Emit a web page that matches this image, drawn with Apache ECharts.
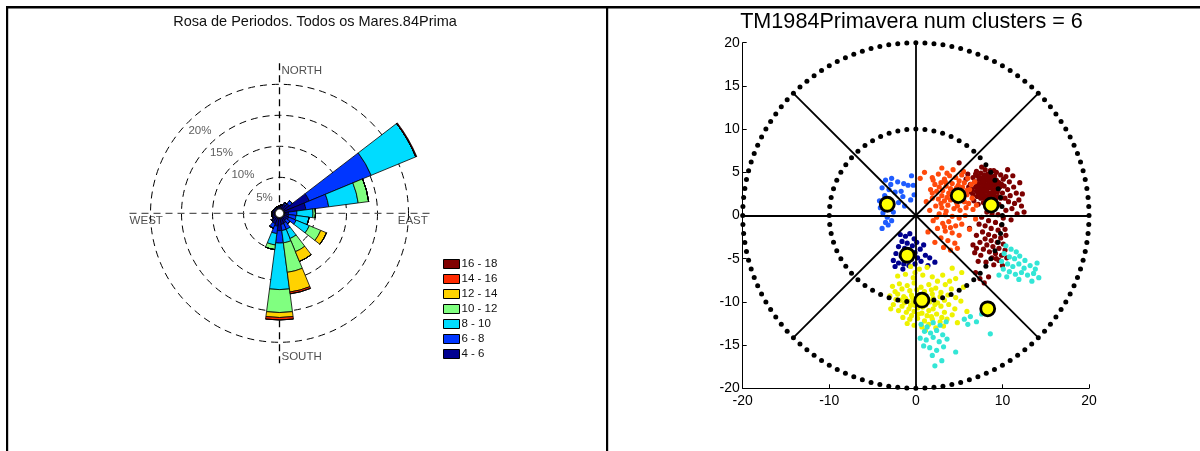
<!DOCTYPE html>
<html>
<head>
<meta charset="utf-8">
<script src="https://cdn.jsdelivr.net/npm/echarts@6/dist/echarts.min.js"></script>
<style>
html,body{margin:0;padding:0;background:#fff;}
#chart{width:1200px;height:451px;}
</style>
</head>
<body>
<div id="chart"></div>
<script>
// ---------- Wind rose (left panel) ----------
// direction sectors, degrees clockwise from north
const directions = [0,15,30,45,60,75,90,105,120,135,150,165,180,195,210,225,240,255,270,285,300,315,330,345];
const speedBins = ['4 - 6','6 - 8','8 - 10','10 - 12','12 - 14','14 - 16','16 - 18'];
// frequency (%) per direction for each period bin
const freq4to6   = [0.4,0.5,0.8,1.2,4.4,3.5,0.65,0.7,0.8,0.6,0.9,1.0,2.0,1.3,1.0,0.7,0.5,0.5,0.4,0.4,0.3,0.3,0.3,0.3];
const freq6to8   = [0,0.1,0.3,0.6,10.8,3.7,1.35,1.2,1.3,0.7,1.1,1.0,2.0,1.2,0.8,0.2,0,0,0,0,0,0,0,0];
const freq8to10  = [0,0,0,0,7.8,4.8,2.6,2.1,2.3,0,1.6,2.0,7.5,1.85,0,0,0,0,0,0,0,0,0,0];
const freq10to12 = [0,0,0,0,0,1.7,0.4,0,2.0,0,2.3,4.8,3.7,0.75,0,0,0,0,0,0,0,0,0,0];
const freq12to14 = [0,0,0,0,0,0,0,0,1.0,0,1.7,3.2,0.8,0,0,0,0,0,0,0,0,0,0,0];
const freq14to16 = [0,0,0,0,0,0,0,0,0,0,0,0.3,0.4,0,0,0,0,0,0,0,0,0,0,0];
const freq16to18 = [0,0,0,0,0.15,0,0,0,0,0,0,0,0,0,0,0,0,0,0,0,0,0,0,0];
const ringValues = [5,10,15,20];
const ringLabels = ['5%','10%','15%','20%'];
const compassNames = ['NORTH','EAST','SOUTH','WEST'];

// ---------- Cluster scatter (right panel) ----------
const clusterBlue = [[-3.5,4.1],[-2.8,4.3],[-2.1,3.9],[-1.4,3.7],[-0.9,3.5],[-0.3,3.5],[-3.9,3.2],[-3.1,3.0],[-2.4,2.7],[-1.7,2.8],[-0.2,2.4],[-0.6,1.8],[-4.2,1.7],[-3.6,2.3],[-2.0,1.5],[-1.3,1.1],[-3.8,0.3],[-3.3,-0.2],[-2.8,-0.6],[-3.5,-0.8],[-2.6,0.4],[-3.9,-1.5],[-4.1,0.9],[-1.5,2.2],[-2.9,3.6],[-3.2,-1.1],[-0.5,4.6]];
const clusterOrange = [[0.5,4.3],[1.0,5.0],[1.9,4.4],[2.6,4.8],[3.3,4.2],[3.9,4.6],[4.6,4.4],[5.3,4.7],[6.0,4.3],[6.4,3.6],[2.2,3.6],[2.9,3.8],[3.5,3.4],[4.2,3.7],[4.9,3.5],[5.6,3.8],[6.2,3.0],[1.7,3.0],[2.4,2.8],[3.1,2.9],[3.8,2.6],[4.5,2.9],[5.2,2.7],[5.9,2.4],[6.5,2.0],[1.9,2.0],[2.6,1.9],[3.3,1.7],[4.0,1.8],[4.7,1.5],[5.4,1.9],[6.1,1.4],[2.3,1.1],[3.0,0.9],[3.7,1.2],[4.4,0.8],[5.1,0.6],[5.8,0.9],[6.6,0.7],[2.7,0.2],[3.4,0.1],[4.2,-0.1],[5.0,-0.3],[5.7,0.0],[2.0,-0.6],[3.1,-0.9],[3.8,-0.7],[4.6,-1.2],[5.3,-1.0],[2.5,-1.5],[3.4,-1.8],[4.2,-2.0],[5.0,-2.3],[2.9,-2.6],[3.7,-2.9],[4.5,-3.2],[3.2,-3.7],[4.0,-4.0],[4.8,-3.8],[1.4,-1.9],[1.6,0.6],[1.2,1.6],[6.8,3.9],[5.5,5.1],[4.3,5.3],[3.0,5.5],[7.0,1.2],[6.9,-0.4],[6.2,-1.6],[2.2,-3.1],[1.9,2.6],[4.1,2.4],[5.0,4.0],[3.6,4.9],[2.0,4.1],[2.7,3.3],[3.4,3.9],[4.0,3.1],[4.7,3.2],[5.4,3.3],[5.9,2.9],[3.0,2.3],[3.6,2.1],[4.3,2.2],[5.0,2.1],[5.6,1.6],[2.9,1.4],[3.5,0.5],[4.8,1.1],[2.4,-0.2],[3.3,-1.3],[4.0,-1.4]];
const clusterDarkRed = [[7.1,4.6],[7.5,4.9],[7.9,4.7],[8.3,4.8],[8.7,4.5],[9.1,4.6],[7.3,4.2],[7.7,4.3],[8.1,4.1],[8.5,4.2],[8.9,4.0],[9.3,4.1],[6.8,3.9],[7.2,3.7],[7.6,3.8],[8.0,3.6],[8.4,3.7],[8.8,3.5],[9.2,3.6],[9.6,3.8],[6.9,3.3],[7.3,3.2],[7.7,3.4],[8.1,3.1],[8.5,3.2],[8.9,3.0],[9.3,3.2],[9.7,3.3],[7.0,2.8],[7.4,2.7],[7.8,2.6],[8.2,2.8],[8.6,2.6],[9.0,2.5],[9.4,2.7],[6.6,2.4],[7.1,2.2],[7.5,2.0],[7.9,2.3],[8.3,2.1],[8.7,1.9],[9.1,2.1],[9.5,2.2],[10.0,2.6],[10.2,3.4],[10.1,4.2],[9.8,4.7],[6.5,3.0],[6.3,3.6],[6.6,4.4],[7.0,5.1],[8.0,5.3],[8.6,5.2],[9.3,5.0],[10.4,4.5],[10.8,3.9],[10.6,3.0],[10.9,2.3],[11.3,3.3],[11.6,2.6],[11.9,1.8],[12.2,1.1],[11.4,1.4],[10.7,1.6],[11.1,0.8],[12.5,0.4],[11.7,0.2],[10.4,0.6],[9.6,1.3],[9.0,1.0],[8.4,1.4],[7.8,1.5],[7.2,1.3],[6.7,1.7],[12.0,3.8],[11.2,4.6],[10.6,5.3],[5.0,6.1],[6.0,4.8],[7.6,5.6],[7.4,4.4],[7.8,4.0],[8.2,4.4],[8.6,3.9],[9.0,4.3],[9.4,3.9],[7.1,3.5],[7.5,3.0],[7.9,2.9],[8.3,3.4],[8.7,3.3],[9.1,2.8],[9.5,3.0],[7.2,2.5],[7.6,2.4],[8.0,2.0],[8.4,2.4],[8.8,2.2],[9.2,1.8],[9.8,2.0],[6.9,4.8],[8.5,4.6],[9.0,5.2],[9.9,3.6],[10.3,2.0],[6.4,2.7],[6.1,3.3],[5.8,4.2],[12.3,2.5],[8.2,0.4],[8.8,0.2],[9.5,0.1],[10.1,-0.3],[11.0,-0.5],[7.6,-0.2],[8.4,-0.6],[9.2,-0.8],[9.9,-1.1],[7.3,-1.0],[8.0,-1.2],[8.7,-1.5],[9.5,-1.7],[10.3,-1.6],[7.7,-1.9],[8.4,-2.2],[9.1,-2.4],[9.8,-2.6],[10.4,-2.3],[8.0,-2.7],[8.7,-2.9],[9.4,-3.1],[10.1,-3.3],[7.4,-3.1],[8.2,-3.4],[8.9,-3.6],[9.6,-3.8],[10.3,-4.0],[6.6,-3.4],[7.0,-3.8],[7.8,-3.9],[8.5,-4.2],[9.2,-4.4],[9.9,-4.6],[6.8,-4.3],[7.5,-4.6],[8.8,-4.9],[9.6,-5.2],[10.5,-4.9],[8.1,-5.4],[9.0,-5.7],[10.0,-5.8],[7.4,-7.3],[7.9,-7.8],[8.4,-7.1],[6.9,-6.6],[6.2,-1.5],[7.0,-2.3],[9.3,-5.0],[7.2,-5.3]];
const clusterNavy = [[-1.2,-2.4],[-0.7,-2.1],[-0.2,-2.7],[-1.6,-3.0],[-1.0,-3.2],[-0.4,-3.5],[0.1,-3.1],[-2.0,-3.6],[-1.3,-3.8],[-0.8,-4.1],[-0.1,-4.3],[0.5,-3.9],[-2.3,-4.4],[-1.7,-4.7],[-1.1,-4.9],[-0.5,-5.0],[0.2,-4.9],[-2.6,-5.2],[-2.0,-5.5],[-1.4,-5.6],[-0.8,-5.8],[-0.1,-5.6],[0.6,-5.3],[1.1,-4.6],[1.6,-4.9],[2.2,-5.4],[-2.4,-5.9],[-1.8,-2.2],[0.9,-3.4],[1.4,-5.8],[-1.5,-6.2]];
const clusterYellow = [[-0.6,-5.9],[0.4,-6.2],[1.3,-6.0],[4.2,-6.1],[5.3,-6.6],[-2.1,-7.0],[-1.2,-6.8],[-0.3,-7.2],[0.8,-6.9],[1.9,-7.1],[3.1,-6.9],[4.6,-7.3],[2.5,-7.6],[-2.7,-8.2],[-1.9,-7.9],[-1.0,-8.1],[-0.2,-7.8],[0.6,-8.3],[1.5,-8.0],[2.3,-8.4],[3.4,-8.0],[4.1,-8.5],[5.5,-8.3],[-2.4,-8.8],[-0.7,-8.7],[1.0,-8.8],[2.9,-8.9],[-3.0,-9.3],[-2.1,-9.1],[-1.4,-9.4],[-0.5,-9.2],[0.3,-9.5],[1.2,-9.3],[2.0,-9.6],[2.8,-9.4],[3.7,-9.2],[4.6,-9.5],[-1.8,-9.8],[-0.9,-9.9],[1.6,-10.0],[2.5,-10.1],[3.3,-9.8],[5.2,-9.9],[-2.6,-10.3],[-1.6,-10.5],[-0.6,-10.4],[0.2,-10.7],[1.1,-10.4],[2.0,-10.8],[2.9,-10.5],[3.8,-10.3],[4.5,-10.8],[-2.0,-11.0],[-1.1,-11.2],[-0.2,-11.1],[0.7,-11.3],[1.5,-11.0],[2.4,-11.4],[3.3,-11.2],[4.2,-11.5],[5.9,-11.1],[-1.5,-11.8],[-0.7,-12.0],[0.2,-11.9],[1.0,-12.2],[1.9,-12.0],[2.8,-12.3],[3.6,-12.0],[4.8,-12.4],[-0.2,-12.7],[0.7,-12.9],[1.5,-12.6],[2.3,-13.0],[3.2,-12.8],[1.1,-13.3],[-1.0,-12.5],[0.0,-9.7],[-0.3,-10.0],[0.5,-10.1],[-1.3,-10.1],[1.4,-9.7],[0.9,-9.9],[-0.8,-10.8],[1.8,-11.7],[-0.4,-9.5],[0.4,-9.2],[-0.1,-10.4],[0.8,-10.6],[-1.2,-9.6],[1.9,-9.1],[-2.3,-9.7],[2.2,-10.3],[-0.5,-11.6],[0.3,-11.4],[1.3,-11.6],[-1.6,-8.5],[0.1,-8.6],[1.8,-8.6],[3.9,-7.6],[3.0,-11.8],[-2.9,-10.8],[-0.1,-6.6]];
const clusterCyan = [[10.4,-3.5],[11.0,-3.9],[11.6,-4.2],[10.2,-4.4],[10.8,-4.8],[11.4,-5.0],[12.0,-4.7],[12.6,-5.2],[9.9,-5.3],[10.6,-5.6],[11.2,-5.9],[11.9,-5.6],[12.5,-6.1],[13.2,-5.8],[13.8,-6.2],[10.1,-6.2],[10.8,-6.5],[11.5,-6.8],[12.2,-6.6],[12.9,-6.9],[13.6,-6.7],[14.2,-7.2],[10.5,-7.1],[11.9,-7.4],[13.4,-7.6],[9.6,-6.9],[14.0,-5.5],[0.6,-12.6],[1.3,-12.9],[2.0,-12.4],[2.8,-12.7],[3.5,-12.3],[1.0,-13.4],[1.7,-13.6],[2.4,-13.3],[3.1,-13.8],[0.5,-14.2],[1.2,-14.4],[2.0,-14.1],[2.7,-14.6],[3.6,-14.3],[0.9,-15.1],[1.6,-15.3],[2.4,-15.6],[3.2,-15.2],[1.9,-16.2],[3.0,-16.8],[2.2,-17.4],[4.6,-15.8],[5.6,-12.0],[6.3,-11.7],[7.0,-12.3],[6.0,-12.6],[8.6,-13.7],[7.6,-11.4]];
const clusterCenters = [[-3.3,1.3],[4.9,2.3],[8.7,1.2],[-1.0,-4.6],[0.7,-9.8],[8.3,-10.8]];
const guideRadii = [20, 10];
const spokeAngles = [0,45,90,135,180,225,270,315];
const axisTicksX = [-20,-10,0,10,20];

// ---------- styling ----------
const FONT = '"Liberation Sans", Arial, Helvetica, sans-serif';
const binColors = ['#000090','#0036ff','#00dcff','#80ff80','#ffd200','#ff2a00','#800000'];
const roseCenter = [279.5, 213.3];
const roseFreq = [freq4to6, freq6to8, freq8to10, freq10to12, freq12to14, freq14to16, freq16to18];

// dots that trace a guide circle of radius r
function circleDots(r, count) {
  const pts = [];
  for (let i = 0; i < count; i++) {
    const a = 2 * Math.PI * i / count;
    pts.push([r * Math.cos(a), r * Math.sin(a)]);
  }
  return pts;
}

const roseSeries = speedBins.map((name, k) => ({
  name: name,
  type: 'bar',
  coordinateSystem: 'polar',
  polarIndex: 0,
  stack: 'rose',
  barCategoryGap: '0%',
  data: roseFreq[k],
  itemStyle: { color: binColors[k], borderColor: '#000', borderWidth: 0.8 },
  emphasis: { disabled: true },
  silent: true
}));

const compassPos = [
  { r: 22.2, a: 0, pos: 'right' },
  { r: 20.7, a: 90, pos: 'bottom' },
  { r: 22.4, a: 180, pos: 'right' },
  { r: 20.7, a: 270, pos: 'bottom' }
];

const clusterDefs = [
  { data: clusterDarkRed, color: '#7c0000' },
  { data: clusterOrange, color: '#ff4a0c' },
  { data: clusterBlue, color: '#1f5cff' },
  { data: clusterNavy, color: '#00008f' },
  { data: clusterYellow, color: '#eef200' },
  { data: clusterCyan, color: '#33e6d6' }
];

const option = {
  animation: false,
  backgroundColor: '#fff',
  textStyle: { fontFamily: FONT },
  title: [
    { text: 'Rosa de Periodos. Todos os Mares.84Prima', left: 315, top: 22, padding: 0,
      textAlign: 'center', textVerticalAlign: 'middle',
      textStyle: { fontFamily: FONT, fontSize: 14.5, fontWeight: 'normal', color: '#111' } },
    { text: 'TM1984Primavera num clusters = 6', left: 911.5, top: 22, padding: 0,
      textAlign: 'center', textVerticalAlign: 'middle',
      textStyle: { fontFamily: FONT, fontSize: 21.6, fontWeight: 'normal', color: '#000' } }
  ],
  legend: {
    orient: 'vertical', left: 443, top: 256.5, padding: 0,
    itemWidth: 16, itemHeight: 9, itemGap: 0, icon: 'rect',
    itemStyle: { borderColor: '#000', borderWidth: 1 },
    data: speedBins.slice().reverse(),
    textStyle: { fontFamily: FONT, fontSize: 11.5, color: '#111', lineHeight: 15, padding: [0, 0, 0, -3] },
    selectedMode: false
  },
  graphic: [
    { type: 'rect', shape: { x: 6, y: 6, width: 1194, height: 2.5 }, style: { fill: '#000' }, silent: true },
    { type: 'rect', shape: { x: 6, y: 6, width: 2.2, height: 445 }, style: { fill: '#000' }, silent: true },
    { type: 'rect', shape: { x: 606, y: 6, width: 2.2, height: 445 }, style: { fill: '#000' }, silent: true }
  ],
  polar: [
    { center: roseCenter, radius: [5, 160] },
    { center: roseCenter, radius: [5, 150] },
    { center: roseCenter, radius: [0, 10] }
  ],
  angleAxis: [
    { polarIndex: 0, type: 'category', data: directions.map(String), startAngle: 97.5, clockwise: true,
      axisLine: { show: false }, axisTick: { show: false }, axisLabel: { show: false }, splitLine: { show: false } },
    { polarIndex: 1, type: 'value', min: 0, max: 360, interval: 90, startAngle: 90, clockwise: true,
      axisLine: { show: false }, axisTick: { show: false }, axisLabel: { show: false },
      splitLine: { show: true, lineStyle: { color: ['#000', '#5a5a5a', '#000', '#5a5a5a', '#000'], width: 1.3, type: [7, 5] } } },
    { polarIndex: 2, type: 'value', min: 0, max: 360,
      axisLine: { show: false }, axisTick: { show: false }, axisLabel: { show: false }, splitLine: { show: false } }
  ],
  radiusAxis: [
    { polarIndex: 0, type: 'value', min: 0, max: 25, interval: 5,
      axisLine: { show: false }, axisTick: { show: false }, axisLabel: { show: false },
      splitLine: { show: true, lineStyle: { color: ['rgba(0,0,0,0)', '#000', '#000', '#000', '#000', 'rgba(0,0,0,0)'], width: 1, type: [7, 5] } } },
    { polarIndex: 1, type: 'value', min: 0, max: 23.4,
      axisLine: { show: false }, axisTick: { show: false }, axisLabel: { show: false }, splitLine: { show: false } },
    { polarIndex: 2, type: 'value', min: 0, max: 1,
      axisLine: { show: false }, axisTick: { show: false }, axisLabel: { show: false }, splitLine: { show: false } }
  ],
  grid: { left: 742.7, top: 42.7, width: 346.3, height: 345.6, containLabel: false },
  xAxis: {
    type: 'value', min: -20, max: 20, interval: 10,
    axisLine: { show: true, onZero: false, lineStyle: { color: '#000', width: 1 } },
    axisTick: { show: true, inside: true, length: 4, lineStyle: { color: '#000' } },
    axisLabel: { color: '#000', fontSize: 14, fontFamily: FONT, margin: 6,
      formatter: v => axisTicksX.includes(v) ? String(v) : '' },
    splitLine: { show: false }
  },
  yAxis: {
    type: 'value', min: -20, max: 20, interval: 5,
    axisLine: { show: true, onZero: false, lineStyle: { color: '#000', width: 1 } },
    axisTick: { show: true, inside: true, length: 4, lineStyle: { color: '#000' } },
    axisLabel: { color: '#000', fontSize: 14, fontFamily: FONT, margin: 3 },
    splitLine: { show: false }
  },
  series: [
    ...roseSeries,
    // percentage ring labels
    {
      type: 'scatter', coordinateSystem: 'polar', polarIndex: 1, symbolSize: 0, silent: true,
      data: ringValues.map((v, i) => ({ value: [v, 316], name: ringLabels[i] })),
      label: { show: true, position: 'inside', offset: [10, 10], formatter: p => p.name,
        fontFamily: FONT, fontSize: 11.5, color: '#333' }
    },
    // compass labels
    {
      type: 'scatter', coordinateSystem: 'polar', polarIndex: 1, symbolSize: 0, silent: true,
      data: compassNames.map((n, i) => ({ value: [compassPos[i].r, compassPos[i].a], name: n,
        label: { position: compassPos[i].pos } })),
      label: { show: true, distance: 2, formatter: p => p.name, fontFamily: FONT, fontSize: 11.5, color: '#222' }
    },
    // centre hub
    {
      type: 'scatter', coordinateSystem: 'polar', polarIndex: 2, silent: true, z: 10,
      symbol: 'circle', symbolSize: 9, data: [[0, 0]],
      itemStyle: { color: '#fff', borderColor: '#000', borderWidth: 1.6 }
    },
    // cluster members
    ...clusterDefs.map(c => ({
      type: 'scatter', xAxisIndex: 0, yAxisIndex: 0, data: c.data, symbolSize: 5.2, clip: false,
      silent: true, z: 2, itemStyle: { color: c.color, opacity: 1 }
    })),
    // dotted guide circles
    ...guideRadii.map(r => ({
      type: 'scatter', data: circleDots(r, r === 20 ? 120 : 60), symbolSize: 5, clip: false,
      silent: true, z: 3, itemStyle: { color: '#000', opacity: 1 }
    })),
    // sector spokes
    {
      type: 'lines', coordinateSystem: 'cartesian2d', silent: true, z: 4,
      data: spokeAngles.map(a => {
        const t = a * Math.PI / 180;
        return { coords: [[0, 0], [20 * Math.cos(t), 20 * Math.sin(t)]] };
      }),
      lineStyle: { color: '#000', width: 1.8, opacity: 1, curveness: 0 }
    },
    // cluster centres
    {
      type: 'scatter', data: clusterCenters, symbol: 'circle', symbolSize: 14, clip: false,
      silent: true, z: 6,
      itemStyle: { color: '#ffff00', borderColor: '#000', borderWidth: 2.8, opacity: 1 }
    }
  ]
};

const chart = echarts.init(document.getElementById('chart'));
chart.setOption(option);
</script>
</body>
</html>
